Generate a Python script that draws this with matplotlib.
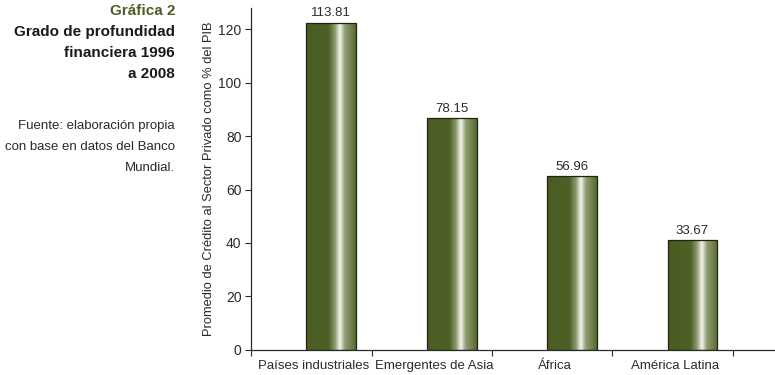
import numpy as np
import matplotlib
matplotlib.use("Agg")
import matplotlib.pyplot as plt
from matplotlib.colors import LinearSegmentedColormap

plt.rcParams['font.family'] = ['Liberation Sans', 'DejaVu Sans']

regiones = ["Países industriales", "Emergentes de Asia", "África", "América Latina"]
alturas = [122.5, 86.7, 65.0, 41.0]   # altura dibujada de las barras
etiquetas = ["113.81", "78.15", "56.96", "33.67"]
yticks = [0, 20, 40, 60, 80, 100, 120]

verde = "#4b5e24"
gris = "#2a2a2a"
cmap = LinearSegmentedColormap.from_list("barra", [
    (0.0, "#4a5c22"), (0.45, "#4d6026"), (0.58, "#8c9a6e"),
    (0.68, "#f4f6ee"), (0.78, "#8f9d70"), (1.0, "#566a30")])

fig = plt.figure(figsize=(7.75, 3.75), dpi=100)
ax = fig.add_axes([0.324, 0.067, 0.676, 0.912])

x = np.arange(len(regiones))
desp = 0.165
ancho = 0.415
grad = np.linspace(0, 1, 256).reshape(1, -1)
for i in range(len(regiones)):
    b = ax.bar(x[i] + desp, alturas[i], width=ancho, color="none",
               edgecolor="#1e2410", linewidth=0.9, zorder=3)[0]
    im = ax.imshow(grad, cmap=cmap, aspect="auto", zorder=2,
                   extent=[x[i] + desp - ancho / 2, x[i] + desp + ancho / 2, 0, alturas[i]])
    im.set_clip_path(b)
    ax.text(x[i] + desp, alturas[i] + 1.3, etiquetas[i], ha="center", va="bottom",
            fontsize=9.5, color=gris)

ax.set_xlim(-0.5, 3.85)
ax.set_ylim(0, 128)
ax.set_yticks(yticks)
ax.set_xticks(np.arange(-0.5, 4, 1))
ax.set_xticklabels([])
for i in range(len(regiones)):
    ax.text(x[i] + 0.02, -6.2, regiones[i], ha="center", va="center", fontsize=9.5, color=gris)
ax.tick_params(axis="y", direction="out", length=4, width=0.8, labelsize=10, colors=gris, pad=3)
ax.tick_params(axis="x", direction="out", length=4, width=0.8, colors=gris)
for s in ["top", "right"]:
    ax.spines[s].set_visible(False)
for s in ["left", "bottom"]:
    ax.spines[s].set_color(gris)
    ax.spines[s].set_linewidth(0.9)
ax.set_ylabel("Promedio de Crédito al Sector Privado como % del PIB", fontsize=9.3, color=gris, labelpad=2)

fig.text(175 / 775, 1 - 11 / 375, "Gráfica 2", ha="right", va="center",
         fontsize=11, fontweight="bold", color=verde)
for j, t in enumerate(["Grado de profundidad", "financiera 1996", "a 2008"]):
    fig.text(175 / 775, 1 - (32 + 21 * j) / 375, t, ha="right", va="center",
             fontsize=11, fontweight="bold", color="#1a1a1a")
for j, t in enumerate(["Fuente: elaboración propia", "con base en datos del Banco", "Mundial."]):
    fig.text(175 / 775, 1 - (126 + 21 * j) / 375, t, ha="right", va="center",
             fontsize=9.5, color=gris)

fig.savefig("out.png", dpi=100)
